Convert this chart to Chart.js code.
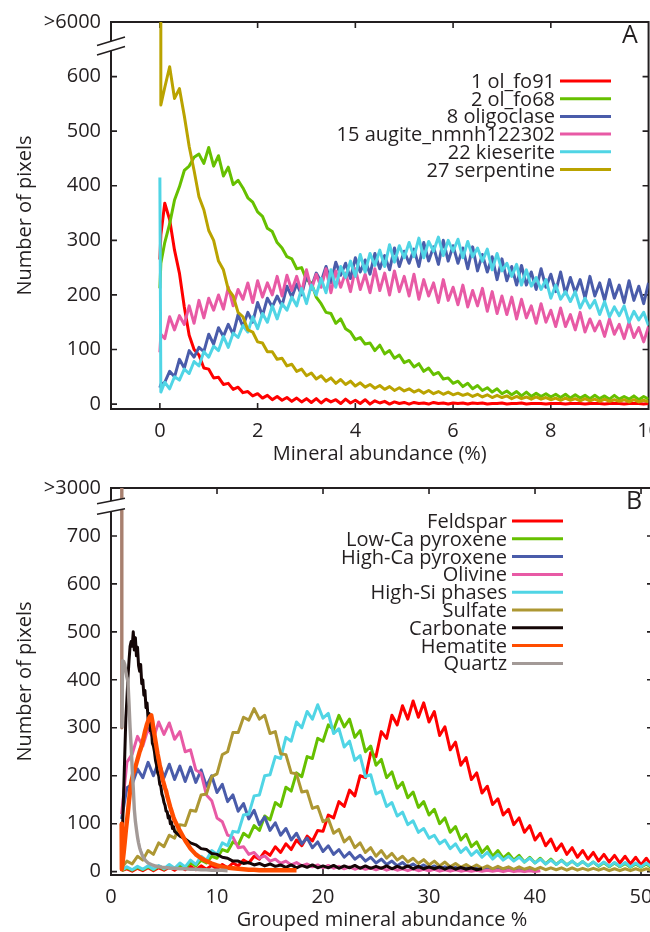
<!DOCTYPE html>
<html><head><meta charset="utf-8">
<script src="https://cdn.jsdelivr.net/npm/chart.js@4.4.1/dist/chart.umd.min.js"></script>
<style>
html,body{margin:0;padding:0;background:#fff;overflow:hidden}
#wrap{position:relative;width:650px;height:932px;overflow:hidden;background:#fff}
canvas{position:absolute;left:0}
#cA{top:0}
#cB{top:466px}
</style></head><body>
<div id="wrap"><canvas id="cA" width="670" height="466"></canvas><canvas id="cB" width="670" height="466"></canvas></div>
<script>
// ---------- Panel A data ----------
const namesA = ['1 ol_fo91','2 ol_fo68','8 oligoclase','15 augite_nmnh122302','22 kieserite','27 serpentine'];
const colorsA = ['#ff0000','#66c000','#4a5caa','#e85aa5','#50d5e5','#baa300'];
const xTicksA = [0,2,4,6,8,10];
const yTicksA = [0,100,200,300,400,500,600,700];
const yTopLabelA = '>6000';
const breakA = 656;
// bin positions: 0, 0.02, then 0.1 .. 10.0
const gridA = [0, 0.02]; for (let i = 1; i <= 100; i++) gridA.push(i / 10);

const fo91 = [265,310,
 368,338,282,240,178,126,100,90,66,64,
 48,49,36,38,27,31,21,23,15,19,
 11,16,8,14,7,12,5,11,4,10,
 3,10,2,9,4,8,1,9,2,7,
 1,8,0,6,2,5,0,4,1,3,
 0,3,1,2,0,3,1,2,0,2,
 1,2,0,2,1,2,0,1,1,2,
 0,1,1,2,0,1,1,1,0,1,
 1,1,0,1,1,1,0,1,1,1,
 0,1,1,1,0,1,1,1,0,1];
const fo68 = [212,258,
 296,330,374,398,428,436,452,458,441,470,
 436,455,418,434,402,410,396,378,370,352,
 344,322,316,296,286,270,266,248,250,228,
 222,196,184,168,166,148,156,138,132,118,
 122,110,112,98,108,92,98,84,90,76,
 80,68,74,60,66,54,58,46,48,38,
 42,32,38,28,34,25,30,22,28,19,
 24,17,23,15,22,14,20,14,19,13,
 18,12,18,11,17,11,16,10,16,10,
 15,9,16,9,14,9,15,8,14,9];
const oligoclase = [30,36,
 40,60,50,82,66,98,86,104,96,128,
 110,140,124,146,128,164,142,168,150,186,
 162,194,178,198,180,216,196,220,200,236,
 214,240,224,252,222,260,236,258,230,268,
 242,264,238,276,248,272,246,286,252,280,
 258,284,252,296,262,288,256,300,262,290,
 258,286,248,288,244,274,242,270,228,266,
 226,252,218,254,218,242,210,248,214,238,
 206,242,202,232,204,228,194,234,198,222,
 190,228,194,218,186,226,190,216,184,222];
const augite = [95,128,
 120,160,136,162,146,180,148,190,158,194,
 172,200,174,214,180,210,192,222,186,226,
 196,222,200,234,198,236,208,234,204,246,
 210,238,214,248,204,244,214,240,206,248,
 210,238,204,248,208,240,200,244,206,234,
 198,238,192,228,198,222,186,228,190,214,
 182,218,178,208,180,212,170,206,166,198,
 164,196,156,192,158,180,148,184,150,172,
 142,176,142,164,136,168,132,156,134,152,
 124,156,128,146,120,150,122,140,114,142];
const kieserite = [415,22,
 40,28,50,44,64,56,78,70,96,86,
 106,98,124,104,130,122,144,132,160,138,
 166,150,180,156,184,172,196,180,212,184,
 218,200,230,204,246,214,252,232,262,234,
 274,242,276,254,282,252,292,260,290,268,
 296,270,304,268,298,280,306,272,300,280,
 302,268,298,270,286,262,284,246,276,244,
 258,234,256,218,246,216,232,210,228,194,
 218,192,206,188,206,176,194,176,190,164,
 188,160,178,162,180,150,170,154,168,144];
const serpentine = [6500,548,
 580,618,560,578,528,472,428,380,356,318,
 300,262,246,210,198,168,160,136,132,114,
 112,96,96,82,84,70,73,60,64,52,
 57,46,52,42,48,38,45,36,42,33,
 39,31,36,29,34,27,32,25,30,24,
 28,22,26,20,25,19,23,18,22,17,
 20,16,19,14,18,13,17,12,16,12,
 15,10,14,10,13,9,13,9,12,8,
 11,7,11,7,10,6,10,6,9,5,
 9,5,8,5,8,4,8,4,7,4];
const seriesA = [fo91, fo68, oligoclase, augite, kieserite, serpentine];

// ---------- Panel B data ----------
const namesB = ['Feldspar','Low-Ca pyroxene','High-Ca pyroxene','Olivine','High-Si phases','Sulfate','Carbonate','Hematite','Quartz'];
const colorsB = ['#ff0000','#66c000','#4a5caa','#e85aa5','#50d5e5','#ad9733','#140606','#ff4d00','#a39a97'];
const xTicksB = [0,10,20,30,40,50];
const yTicksB = [0,100,200,300,400,500,600,700,800];
const yTopLabelB = '>3000';
const breakB = 762;
// fine bins: 1.0, 1.02, 1.1..5.9, then 6.0..51 step 0.5 ; coarse bins: 1.0..51 step 0.5
const gridFine = [1.0, 1.02];
for (let i = 11; i <= 59; i++) gridFine.push(i / 10);
for (let i = 12; i <= 102; i++) gridFine.push(i / 2);
const gridCoarse = []; for (let i = 2; i <= 102; i++) gridCoarse.push(i / 2);

const feldspar = [2,6,1,7,2,8,2,8,3,9,
 3,10,4,11,4,12,5,13,6,15,
 8,18,12,24,18,32,26,42,34,52,
 40,58,46,66,54,74,64,86,84,118,
 112,146,136,170,158,200,196,248,240,292,
 278,326,306,346,318,356,322,352,312,334,
 284,302,254,270,222,238,192,206,164,178,
 140,152,118,130,98,112,82,96,66,80,
 54,68,44,58,36,50,30,44,26,40,
 22,36,20,34,18,32,16,30,14,28,12];
const lowCa = [2,8,3,9,4,10,4,11,5,12,
 6,14,8,18,12,24,18,32,28,46,
 42,62,56,80,72,96,86,116,108,144,
 136,176,168,206,198,240,236,278,272,306,
 296,326,302,318,280,294,250,262,222,234,
 196,208,174,186,154,166,134,146,118,130,
 100,112,82,94,66,78,52,62,40,52,
 32,44,28,38,24,34,20,30,18,28,
 16,26,15,24,14,22,13,21,12,20,
 11,19,10,18,10,17,9,16,9,16,8];
const highCa = [110,175,182,214,196,228,200,230,196,224,
 192,220,188,218,186,212,178,200,165,182,
 146,160,126,142,110,128,98,114,86,102,
 76,90,66,80,58,70,50,62,42,54,
 36,46,30,40,26,34,22,30,18,26,
 15,22,12,19,10,16,8,14,7,12,
 6,10,5,9,4,8,4,7,3,6,
 3,5,2,5,2,4,1,4,1];
const olivine = [120,228,245,282,262,298,278,312,286,310,
 276,292,250,254,212,205,160,148,112,104,
 76,72,50,52,36,40,28,33,22,26,
 17,22,14,19,12,16,10,14,8,13,
 7,11,6,10,5,9,5,8,4,8,
 3,7,3,6,2,6,2,5,2,5,
 1,4,1,4,1,3,1,3,1,3,
 1,3,0,3,0,2,0,2,0,2];
const highSi = [3,10,4,11,5,12,5,13,6,15,
 7,18,10,24,15,32,24,44,36,60,
 54,84,82,118,120,158,160,200,202,240,
 236,280,272,312,300,334,318,348,320,330,
 288,298,260,272,232,242,198,202,162,168,
 136,144,116,124,98,106,82,90,70,76,
 58,66,48,58,40,50,34,44,30,40,
 26,36,24,32,22,30,20,28,18,26,
 16,24,15,23,14,22,13,21,12,20,
 12,20,11,19,11,19,10,18,10,18,10];
const sulfate = [8,22,16,32,24,44,36,60,52,76,
 70,98,96,128,126,160,162,198,204,244,
 250,290,290,322,316,340,318,326,288,292,
 246,244,206,204,166,168,132,136,104,110,
 80,88,62,72,50,60,40,50,32,44,
 28,38,24,32,20,28,17,25,14,22,
 12,20,10,17,9,15,8,14,7,12,
 6,11,6,10,5,10,5,9,4,9,
 4,8,4,8,3,8,3,7,3,7,
 3,7,2,6,2,6,2,6,2,6,2];
const carbonate = [20,60,
 100,170,245,320,360,405,440,470,480,470,
 500,462,488,450,468,430,418,432,392,400,
 368,378,342,352,318,330,294,304,268,262,
 250,232,222,206,200,182,178,162,155,144,
 138,126,125,112,116,100,104,90,94,
 84,74,68,60,56,48,46,38,36,30,
 28,22,22,17,19,14,17,12,16,11,
 14,9,14,8,13,9,14,8,12,8,
 13,7,12,8,13,7,12,7,11,7,
 12,6,11,7,12,6,11,6,10,6,
 10,5,10,5,9,5,8,4,6];
const hematite = [100,5,
 20,40,62,85,105,125,148,168,185,195,
 205,210,218,226,234,242,250,256,264,272,
 282,292,300,308,314,320,324,326,314,298,
 286,272,258,245,234,222,212,200,190,182,
 174,168,158,150,142,134,127,120,113,
 107,85,65,48,36,28,22,17,13,10,
 8,7,6,5,4,4,3,3,3,3,
 3,3,3,3];
const quartz = [5000,300,
 440,438,432,418,405,396,350,300,262,215,
 175,130,105,88,72,60,50,43,37,32,
 28,25,22,20,18,17,16,15,14,13,
 12,12,11,11,10,10,10,9,9,9,
 8,8,8,8,7,7,7,7,7,
 7,6,6,5,5,4,4,3,3,3,2];
const seriesB = [feldspar, lowCa, highCa, olivine, highSi, sulfate, carbonate, hematite, quartz];
const gridsB = [gridCoarse, gridCoarse, gridCoarse, gridCoarse, gridCoarse, gridCoarse, gridFine, gridFine, gridFine];

// ---------- drawing ----------
const FONT = '"Open Sans", sans-serif';
const INK = '#231f20';
Chart.defaults.font.family = FONT;

function xy(xs, ys) { return ys.map((y, i) => ({x: xs[i], y: y})); }

const framePlugin = {
  id: 'frame',
  beforeDatasetsDraw(chart) {
    const {ctx, chartArea: a, scales: {x, y}} = chart;
    ctx.save();
    ctx.strokeStyle = INK; ctx.lineWidth = 2;
    ctx.strokeRect(a.left, a.top, a.right - a.left, a.bottom - a.top);
    ctx.lineWidth = 1.6;
    ctx.beginPath();
    x.ticks.forEach(t => {
      const px = x.getPixelForValue(t.value);
      if (px <= a.left + 1 || px >= a.right - 1) return;
      ctx.moveTo(px, a.bottom); ctx.lineTo(px, a.bottom - 6);
      ctx.moveTo(px, a.top); ctx.lineTo(px, a.top + 6);
    });
    y.ticks.forEach(t => {
      const py = y.getPixelForValue(t.value);
      if (py <= a.top + 1 || py >= a.bottom - 1) return;
      ctx.moveTo(a.left, py); ctx.lineTo(a.left + 6, py);
      ctx.moveTo(a.right, py); ctx.lineTo(a.right - 6, py);
    });
    ctx.stroke();
    ctx.restore();
  },
  afterDatasetsDraw(chart, args, opts) {
    const {ctx, chartArea: a, scales: {y}} = chart;
    const yc = y.getPixelForValue(opts.breakValue);
    const hx = 14, s = opts.slope, g = opts.gap, ax = a.left;
    ctx.save();
    ctx.fillStyle = '#fff';
    ctx.beginPath();
    ctx.moveTo(ax - hx, yc - g + hx * s);
    ctx.lineTo(ax + hx, yc - g - hx * s);
    ctx.lineTo(ax + hx, yc + g - hx * s);
    ctx.lineTo(ax - hx, yc + g + hx * s);
    ctx.closePath(); ctx.fill();
    ctx.strokeStyle = INK; ctx.lineWidth = 1.5;
    ctx.beginPath();
    ctx.moveTo(ax - hx, yc - g + hx * s); ctx.lineTo(ax + hx, yc - g - hx * s);
    ctx.moveTo(ax - hx, yc + g + hx * s); ctx.lineTo(ax + hx, yc + g - hx * s);
    ctx.stroke();
    // legend
    ctx.font = '20px ' + FONT;
    ctx.textAlign = 'right'; ctx.textBaseline = 'alphabetic';
    chart.data.datasets.forEach((d, i) => {
      const ly = opts.legendY + i * opts.legendStep;
      ctx.fillStyle = INK;
      ctx.fillText(d.label, opts.legendX, ly + 7);
      ctx.strokeStyle = d.borderColor; ctx.lineWidth = 3;
      ctx.beginPath(); ctx.moveTo(opts.legendX + 5, ly); ctx.lineTo(opts.legendX + 56, ly); ctx.stroke();
    });
    // panel letter
    ctx.font = '25px ' + FONT;
    ctx.textAlign = 'center'; ctx.textBaseline = 'middle';
    ctx.fillStyle = INK;
    ctx.fillText(opts.letter, opts.letterX, opts.letterY);
    ctx.restore();
  }
};

function makeChart(id, cfg) {
  const n = cfg.series.length;
  const datasets = cfg.series.map((ys, i) => ({
    label: cfg.names[i],
    data: xy(cfg.grids[i], ys),
    borderColor: cfg.colors[i],
    borderWidth: cfg.widths ? cfg.widths[i] : 3,
    borderJoinStyle: 'round',
    pointRadius: 0,
    tension: 0,
    fill: false,
    order: n - i,
    clip: {left: 0, top: 0, right: 0, bottom: 6},
    segment: cfg.segment ? cfg.segment[i] : undefined
  }));
  const tickFont = {family: FONT, size: 20};
  return new Chart(document.getElementById(id), {
    type: 'line',
    data: {datasets},
    plugins: [framePlugin],
    options: {
      responsive: false,
      animation: false,
      events: [],
      layout: {padding: {left: 0, top: cfg.top, right: 17, bottom: 0}},
      plugins: {
        legend: {display: false},
        tooltip: {enabled: false},
        frame: cfg.frame
      },
      scales: {
        x: {
          type: 'linear', position: 'bottom', min: cfg.xMin, max: cfg.xMax,
          grid: {display: false, drawTicks: false},
          border: {display: false},
          ticks: {font: tickFont, color: INK, padding: 10, autoSkip: false, maxRotation: 0, minRotation: 0},
          afterBuildTicks: s => { s.ticks = cfg.xTicks.map(v => ({value: v})); },
          afterFit: s => { s.height = 57; },
          title: {display: true, text: cfg.xTitle, font: tickFont, color: INK, padding: {top: 0, bottom: 0}}
        },
        y: {
          type: 'linear', position: 'left', min: cfg.yMin, max: cfg.yMax,
          grid: {display: false, drawTicks: false},
          border: {display: false},
          ticks: {font: tickFont, color: INK, padding: 10, autoSkip: false,
                  callback: v => v === cfg.yMax ? cfg.yTopLabel : String(v)},
          afterBuildTicks: s => { s.ticks = cfg.yTicks.map(v => ({value: v})); },
          afterFit: s => { s.width = 111; },
          title: {display: true, text: 'Number of pixels', font: tickFont, color: INK, padding: {top: 13, bottom: 0}}
        }
      }
    }
  });
}

makeChart('cA', {
  series: seriesA, names: namesA, colors: colorsA, grids: seriesA.map(() => gridA),
  xMin: -1, xMax: 10, yMin: -9, yMax: 700, xTicks: xTicksA, yTicks: yTicksA, yTopLabel: yTopLabelA,
  xTitle: 'Mineral abundance (%)', top: 18,
  frame: {breakValue: breakA, slope: 0.3, gap: 4.75, legendX: 555, legendY: 81, legendStep: 17.7,
          letter: 'A', letterX: 630, letterY: 36}
});

makeChart('cB', {
  series: seriesB, names: namesB, colors: colorsB, grids: gridsB,
  widths: [3, 3, 3, 3, 3, 3, 3, 4.4, 3.4],
  segment: [null, null, null, null, null, null, null, null,
            {borderColor: c => c.p0DataIndex === 0 ? '#a8806f' : undefined}],
  xMin: 0, xMax: 51.13, yMin: -7, yMax: 800, xTicks: xTicksB, yTicks: yTicksB, yTopLabel: yTopLabelB,
  xTitle: 'Grouped mineral abundance %', top: 19,
  frame: {breakValue: breakB, slope: 0.2, gap: 5.25, legendX: 507, legendY: 55, legendStep: 17.8,
          letter: 'B', letterX: 634, letterY: 36}
});
</script>
</body></html>
